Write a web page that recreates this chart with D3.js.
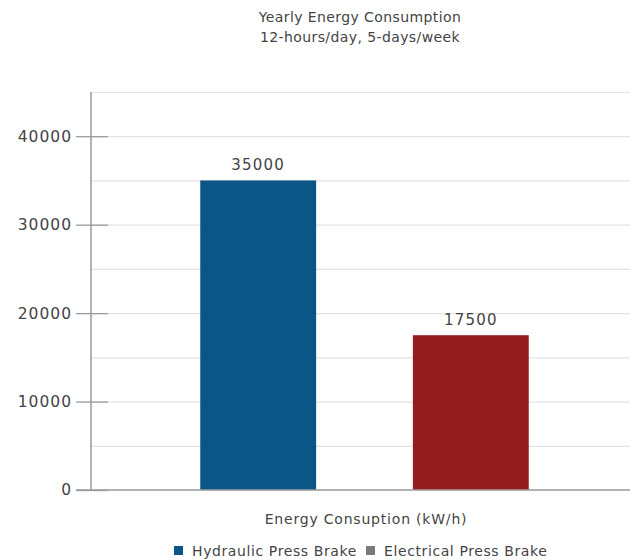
<!DOCTYPE html>
<html>
<head>
<meta charset="utf-8">
<script src="https://cdn.jsdelivr.net/npm/d3@7"></script>
<style>
  body { margin: 0; background: #fff; }
  text { font-family: "DejaVu Sans", sans-serif; fill: #444; }
</style>
</head>
<body>
<div id="chart"></div>
<script>
// data
const categories = ["Hydraulic Press Brake", "Electrical Press Brake"];
const values = [35000, 17500];
const barColors = ["#0b5686", "#951c1f"];
const legendColors = ["#0b5686", "#7a7a7a"];
const yTicks = [0, 10000, 20000, 30000, 40000];
const gridTicks = [5000, 10000, 15000, 20000, 25000, 30000, 35000, 40000, 45000];

const width = 630;
const height = 560;

const svg = d3.select("#chart").append("svg")
  .attr("width", width)
  .attr("height", height);

// scales
const yScale = d3.scaleLinear()
  .domain([0, 45000])
  .range([490, 92]);

const xScale = d3.scaleBand()
  .domain(categories)
  .range([95, 634])
  .paddingInner(0.455)
  .paddingOuter(0.495);

const axisX = 91;

// gridlines
svg.append("g")
  .selectAll("line")
  .data(gridTicks)
  .enter()
  .append("line")
  .attr("x1", axisX)
  .attr("x2", width)
  .attr("y1", d => yScale(d) + 0.5)
  .attr("y2", d => yScale(d) + 0.5)
  .attr("stroke", "#e4e4e4")
  .attr("stroke-width", 1.2);

// title
svg.append("text")
  .attr("x", 360)
  .attr("y", 22)
  .attr("text-anchor", "middle")
  .style("font-size", "14px")
  .style("letter-spacing", "0.4px")
  .text("Yearly Energy Consumption");
svg.append("text")
  .attr("x", 360)
  .attr("y", 42)
  .attr("text-anchor", "middle")
  .style("font-size", "14px")
  .style("letter-spacing", "0.4px")
  .text("12-hours/day, 5-days/week");

// bars
svg.append("g")
  .selectAll("rect")
  .data(values)
  .enter()
  .append("rect")
  .attr("x", (d, i) => xScale(categories[i]))
  .attr("y", d => yScale(d))
  .attr("width", xScale.bandwidth())
  .attr("height", d => yScale(0) - yScale(d))
  .attr("fill", (d, i) => barColors[i]);

// value labels
svg.append("g")
  .selectAll("text")
  .data(values)
  .enter()
  .append("text")
  .attr("x", (d, i) => xScale(categories[i]) + xScale.bandwidth() / 2)
  .attr("y", d => yScale(d) - 10)
  .attr("text-anchor", "middle")
  .style("font-size", "15px")
  .style("letter-spacing", "1.2px")
  .text(d => d);

// y axis
const axisY = d3.axisLeft(yScale)
  .tickValues(yTicks)
  .tickSize(15)
  .tickPadding(4)
  .tickFormat(d3.format("d"));

const gy = svg.append("g")
  .attr("transform", "translate(" + axisX + ",0)")
  .call(axisY);
gy.select(".domain").attr("stroke", "#9a9a9a").attr("stroke-width", 1.5)
  .attr("d", "M0," + yScale(45000) + "V" + yScale(0));
gy.selectAll(".tick line")
  .attr("x2", -15).attr("x1", 17)
  .attr("stroke", "#9a9a9a").attr("stroke-width", 1.3);
gy.selectAll(".tick text")
  .attr("x", -19)
  .style("font-size", "15.5px")
  .style("letter-spacing", "1px")
  .style("fill", "#444")
  .style("font-family", "DejaVu Sans, sans-serif");

// baseline
svg.append("line")
  .attr("x1", 76)
  .attr("x2", width)
  .attr("y1", yScale(0))
  .attr("y2", yScale(0))
  .attr("stroke", "#9a9a9a")
  .attr("stroke-width", 1.5);

// x axis title
svg.append("text")
  .attr("x", 366)
  .attr("y", 524)
  .attr("text-anchor", "middle")
  .style("font-size", "14px")
  .style("letter-spacing", "0.8px")
  .text("Energy Consuption (kW/h)");

// legend
const legendX = [174, 366];
const legend = svg.append("g")
  .selectAll("g")
  .data(categories)
  .enter()
  .append("g")
  .attr("transform", (d, i) => "translate(" + legendX[i] + ",551)");
legend.append("rect")
  .attr("x", 0)
  .attr("y", -5)
  .attr("width", 9)
  .attr("height", 9)
  .attr("fill", (d, i) => legendColors[i]);
legend.append("text")
  .attr("x", 18)
  .attr("y", 5)
  .style("font-size", "14px")
  .style("letter-spacing", "0.6px")
  .text(d => d);
</script>
</body>
</html>
